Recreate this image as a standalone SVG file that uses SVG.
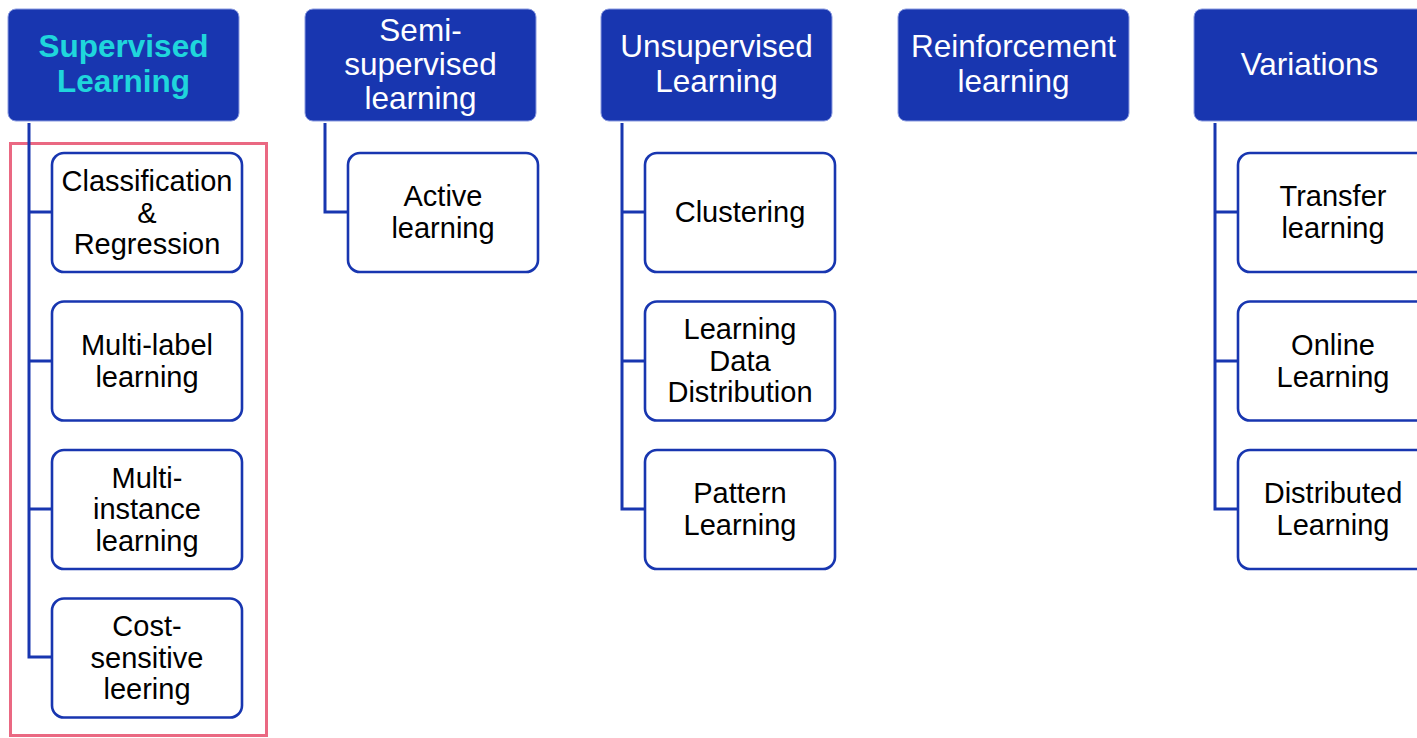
<svg xmlns="http://www.w3.org/2000/svg" width="1417" height="738" viewBox="0 0 1417 738">
<style>
.hd{fill:#1836b0;stroke:#8a9ae0;stroke-width:1}
.ch{fill:#fff;stroke:#1836b0;stroke-width:2.6}
.ht{font-family:"Liberation Sans",Arial,sans-serif;font-size:31.5px;fill:#fff;text-anchor:middle}
.hs{font-weight:bold;fill:#1fd6dc}
.ct{font-family:"Liberation Sans",Arial,sans-serif;font-size:29px;fill:#000;text-anchor:middle}
.cn{fill:none;stroke:#1836b0;stroke-width:3}
</style>
<rect width="1417" height="738" fill="#fff"/>
<rect x="10.5" y="143.5" width="256" height="592" fill="none" stroke="#ea6882" stroke-width="3"/>
<g id="connectors">
<path class="cn" d="M29,123 V657 H52 M29,212 H52 M29,361 H52 M29,509 H52"/>
<path class="cn" d="M325,123 V212 H348"/>
<path class="cn" d="M622,123 V509 H645 M622,212 H645 M622,361 H645"/>
<path class="cn" d="M1215,123 V509 H1238 M1215,212 H1238 M1215,361 H1238"/>
</g>
<g id="supervised"><rect class="hd" x="8" y="9" width="231" height="112" rx="8"/><text class="ht hs" x="123.5" y="57">Supervised</text><text class="ht hs" x="123.5" y="92">Learning</text></g>
<g id="semi"><rect class="hd" x="305" y="9" width="231" height="112" rx="8"/><text class="ht" x="420.5" y="41">Semi-</text><text class="ht" x="420.5" y="75">supervised</text><text class="ht" x="420.5" y="109">learning</text></g>
<g id="unsupervised"><rect class="hd" x="601" y="9" width="231" height="112" rx="8"/><text class="ht" x="716.5" y="57">Unsupervised</text><text class="ht" x="716.5" y="92">Learning</text></g>
<g id="reinforcement"><rect class="hd" x="898" y="9" width="231" height="112" rx="8"/><text class="ht" x="1013.5" y="57">Reinforcement</text><text class="ht" x="1013.5" y="92">learning</text></g>
<g id="variations"><rect class="hd" x="1194" y="9" width="231" height="112" rx="8"/><text class="ht" x="1309.5" y="75">Variations</text></g>
<g id="classification"><rect class="ch" x="52" y="153" width="190" height="119" rx="12"/><text class="ct" x="147" y="191">Classification</text><text class="ct" x="147" y="223">&amp;</text><text class="ct" x="147" y="254">Regression</text></g>
<g id="multilabel"><rect class="ch" x="52" y="301.5" width="190" height="119" rx="12"/><text class="ct" x="147" y="355">Multi-label</text><text class="ct" x="147" y="387">learning</text></g>
<g id="multiinstance"><rect class="ch" x="52" y="450" width="190" height="119" rx="12"/><text class="ct" x="147" y="488">Multi-</text><text class="ct" x="147" y="519">instance</text><text class="ct" x="147" y="551">learning</text></g>
<g id="costsensitive"><rect class="ch" x="52" y="598.5" width="190" height="119" rx="12"/><text class="ct" x="147" y="636">Cost-</text><text class="ct" x="147" y="668">sensitive</text><text class="ct" x="147" y="699">leering</text></g>
<g id="active"><rect class="ch" x="348" y="153" width="190" height="119" rx="12"/><text class="ct" x="443" y="206">Active</text><text class="ct" x="443" y="238">learning</text></g>
<g id="clustering"><rect class="ch" x="645" y="153" width="190" height="119" rx="12"/><text class="ct" x="740" y="222">Clustering</text></g>
<g id="learningdata"><rect class="ch" x="645" y="301.5" width="190" height="119" rx="12"/><text class="ct" x="740" y="339">Learning</text><text class="ct" x="740" y="371">Data</text><text class="ct" x="740" y="402">Distribution</text></g>
<g id="pattern"><rect class="ch" x="645" y="450" width="190" height="119" rx="12"/><text class="ct" x="740" y="503">Pattern</text><text class="ct" x="740" y="535">Learning</text></g>
<g id="transfer"><rect class="ch" x="1238" y="153" width="190" height="119" rx="12"/><text class="ct" x="1333" y="206">Transfer</text><text class="ct" x="1333" y="238">learning</text></g>
<g id="online"><rect class="ch" x="1238" y="301.5" width="190" height="119" rx="12"/><text class="ct" x="1333" y="355">Online</text><text class="ct" x="1333" y="387">Learning</text></g>
<g id="distributed"><rect class="ch" x="1238" y="450" width="190" height="119" rx="12"/><text class="ct" x="1333" y="503">Distributed</text><text class="ct" x="1333" y="535">Learning</text></g>
</svg>
